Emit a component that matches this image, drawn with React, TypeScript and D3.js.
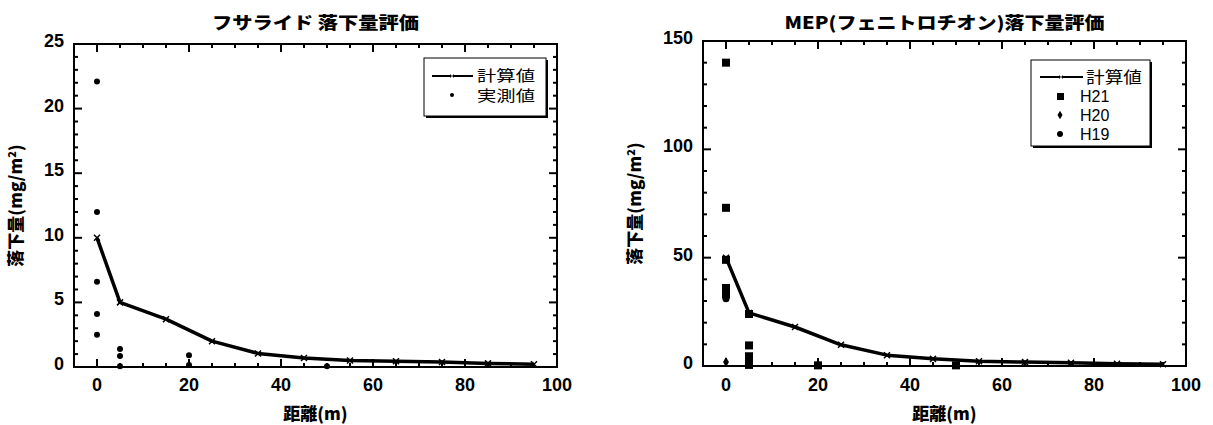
import React from "react";
import * as d3 from "d3";

// ---------- data ----------
const calcX = [0, 5, 15, 25, 35, 45, 55, 65, 75, 85, 95];
const calcLeft = [10, 5, 3.7, 2.0, 1.05, 0.7, 0.5, 0.45, 0.38, 0.28, 0.22];
const measLeftX = [0, 0, 0, 0, 0, 5, 5, 5, 20, 20, 50];
const measLeftY = [22.1, 12, 6.6, 4.1, 2.5, 1.4, 0.85, 0.05, 0.9, 0.15, 0.05];

const calcRight = [50, 24.5, 18, 9.8, 5, 3.3, 2.2, 1.8, 1.5, 1.0, 0.8];
const h21X = [0, 0, 0, 0, 0, 5, 5, 5, 5, 5, 20, 50];
const h21Y = [140, 73, 49, 36, 33, 24, 9.5, 4.5, 2.2, 0.5, 0.3, 0.3];
const h20X = [0];
const h20Y = [1.8];
const h19X = [0];
const h19Y = [31];

const xTicksMajor = [0, 20, 40, 60, 80, 100];
const leftYMajor = [0, 5, 10, 15, 20, 25];
const rightYMajor = [0, 50, 100, 150];

const FONT_JP = "'Noto Sans CJK JP', 'Noto Sans', sans-serif";
const FONT_NUM = "'Liberation Sans', Arial, sans-serif";

type PanelProps = {
  x0: number; x1: number; y0: number; y1: number;
  yMax: number; yMajor: number[]; yMinorStep: number;
  title: string; titleLen: number; yLabelX: number;
  children: (sx: d3.ScaleLinear<number, number>, sy: d3.ScaleLinear<number, number>) => React.ReactNode;
};

function Panel(p: PanelProps) {
  const sx = d3.scaleLinear().domain([-5, 100]).range([p.x0, p.x1]);
  const sy = d3.scaleLinear().domain([0, p.yMax]).range([p.y1, p.y0]);
  const xMinor = d3.range(0, 101, 5);
  const yMinor = d3.range(0, p.yMax + 0.001, p.yMinorStep);
  const cx = (p.x0 + p.x1) / 2;
  const cy = (p.y0 + p.y1) / 2;
  return (
    <g>
      <text x={cx} y={29} textAnchor="middle" fontFamily={FONT_JP} fontWeight={900} fontSize={17}
        textLength={p.titleLen} lengthAdjust="spacingAndGlyphs">{p.title}</text>
      {xMinor.map((v) => {
        const major = xTicksMajor.includes(v);
        const len = major ? 8 : 4;
        return (
          <g key={"xt" + v}>
            <line x1={sx(v)} x2={sx(v)} y1={p.y1} y2={p.y1 - len} stroke="#000" strokeWidth={2} />
            <line x1={sx(v)} x2={sx(v)} y1={p.y0} y2={p.y0 + len} stroke="#000" strokeWidth={2} />
          </g>
        );
      })}
      {yMinor.map((v) => {
        const major = p.yMajor.includes(Math.round(v * 1000) / 1000);
        const len = major ? 8 : 4;
        return (
          <g key={"yt" + v}>
            <line x1={p.x0} x2={p.x0 + len} y1={sy(v)} y2={sy(v)} stroke="#000" strokeWidth={2} />
            <line x1={p.x1} x2={p.x1 - len} y1={sy(v)} y2={sy(v)} stroke="#000" strokeWidth={2} />
          </g>
        );
      })}
      <rect x={p.x0} y={p.y0} width={p.x1 - p.x0} height={p.y1 - p.y0} fill="none" stroke="#000" strokeWidth={2} />
      {xTicksMajor.map((v) => (
        <text key={"xl" + v} x={sx(v)} y={391} textAnchor="middle" fontFamily={FONT_NUM} fontWeight={700} fontSize={18}>{v}</text>
      ))}
      {p.yMajor.map((v) => (
        <text key={"yl" + v} x={p.x0 - 10} y={sy(v) + 3} textAnchor="end" fontFamily={FONT_NUM} fontWeight={700} fontSize={18}>{v}</text>
      ))}
      <text x={cx} y={420} textAnchor="middle" fontFamily={FONT_JP} fontWeight={900} fontSize={17}>距離(m)</text>
      <text transform={`translate(${p.yLabelX},${cy}) rotate(-90)`} textAnchor="middle" fontFamily={FONT_JP} fontWeight={900} fontSize={17}>
        落下量(mg/m<tspan fontSize={11} dy={-6}>2</tspan><tspan dy={6}>)</tspan>
      </text>
      {p.children(sx, sy)}
    </g>
  );
}

function Cross({ x, y, s = 3, color = "#000", w = 1.5 }: { x: number; y: number; s?: number; color?: string; w?: number }) {
  return (
    <path d={`M${x - s},${y - s}L${x + s},${y + s}M${x - s},${y + s}L${x + s},${y - s}`} stroke={color} strokeWidth={w} />
  );
}

export default function App() {
  return (
    <svg width={1213} height={425} style={{ position: "absolute", left: 0, top: 0, background: "#fff" }}>
      <Panel x0={74} x1={557} y0={44} y1={367} yMax={25} yMajor={leftYMajor} yMinorStep={1}
        title="フサライド 落下量評価" titleLen={207} yLabelX={22}>
        {(sx, sy) => {
          const line = d3.line<number>().x((_, i) => sx(calcX[i])).y((d) => sy(d));
          return (
            <g>
              <path d={line(calcLeft) || ""} fill="none" stroke="#000" strokeWidth={3.5} strokeLinejoin="round" />
              {calcLeft.map((d, i) => <Cross key={i} x={sx(calcX[i])} y={sy(d)} s={3} w={1.5} />)}
              {measLeftY.map((d, i) => <circle key={"m" + i} cx={sx(measLeftX[i])} cy={sy(d)} r={3} fill="#000" />)}
              <rect x={426} y={60} width={122} height={58} fill="#000" />
              <rect x={424} y={58} width={122} height={58} fill="#fff" stroke="#000" strokeWidth={1} />
              <line x1={432} x2={473} y1={76} y2={76} stroke="#000" strokeWidth={2} />
              <Cross x={452} y={76} s={2} color="#888" w={1} />
              <text x={477} y={81} fontFamily={FONT_JP} fontSize={15} textLength={58} lengthAdjust="spacingAndGlyphs">計算値</text>
              <circle cx={452} cy={95} r={2} fill="#000" />
              <text x={477} y={101} fontFamily={FONT_JP} fontSize={15} textLength={58} lengthAdjust="spacingAndGlyphs">実測値</text>
            </g>
          );
        }}
      </Panel>
      <Panel x0={703} x1={1186} y0={41} y1={366} yMax={150} yMajor={rightYMajor} yMinorStep={10}
        title="MEP(フェニトロチオン)落下量評価" titleLen={320} yLabelX={641}>
        {(sx, sy) => {
          const line = d3.line<number>().x((_, i) => sx(calcX[i])).y((d) => sy(d));
          const sym = d3.symbol();
          return (
            <g>
              <path d={line(calcRight) || ""} fill="none" stroke="#000" strokeWidth={3.5} strokeLinejoin="round" />
              {calcRight.map((d, i) => <Cross key={i} x={sx(calcX[i])} y={sy(d)} s={3} w={1.5} />)}
              {h21Y.map((d, i) => <rect key={"a" + i} x={sx(h21X[i]) - 4} y={sy(d) - 4} width={8} height={8} fill="#000" />)}
              {h20Y.map((d, i) => (
                <path key={"b" + i} transform={`translate(${sx(h20X[i])},${sy(d)})`} d={sym.type(d3.symbolDiamond).size(30)() || ""} fill="#000" />
              ))}
              {h19Y.map((d, i) => <circle key={"c" + i} cx={sx(h19X[i])} cy={sy(d)} r={3.5} fill="#000" />)}
              <rect x={1033} y={62} width={119} height={86} fill="#000" />
              <rect x={1031} y={60} width={119} height={86} fill="#fff" stroke="#000" strokeWidth={1} />
              <line x1={1040} x2={1083} y1={77} y2={77} stroke="#000" strokeWidth={2} />
              <Cross x={1061} y={77} s={2} color="#888" w={1} />
              <text x={1086} y={83} fontFamily={FONT_JP} fontSize={16} textLength={56} lengthAdjust="spacingAndGlyphs">計算値</text>
              <rect x={1057} y={93} width={7} height={7} fill="#000" />
              <text x={1080} y={102} fontFamily={FONT_NUM} fontSize={16}>H21</text>
              <path transform="translate(1060,115)" d={sym.type(d3.symbolDiamond).size(22)() || ""} fill="#000" />
              <text x={1080} y={121} fontFamily={FONT_NUM} fontSize={16}>H20</text>
              <circle cx={1060} cy={134} r={3} fill="#000" />
              <text x={1080} y={140} fontFamily={FONT_NUM} fontSize={16}>H19</text>
            </g>
          );
        }}
      </Panel>
    </svg>
  );
}
